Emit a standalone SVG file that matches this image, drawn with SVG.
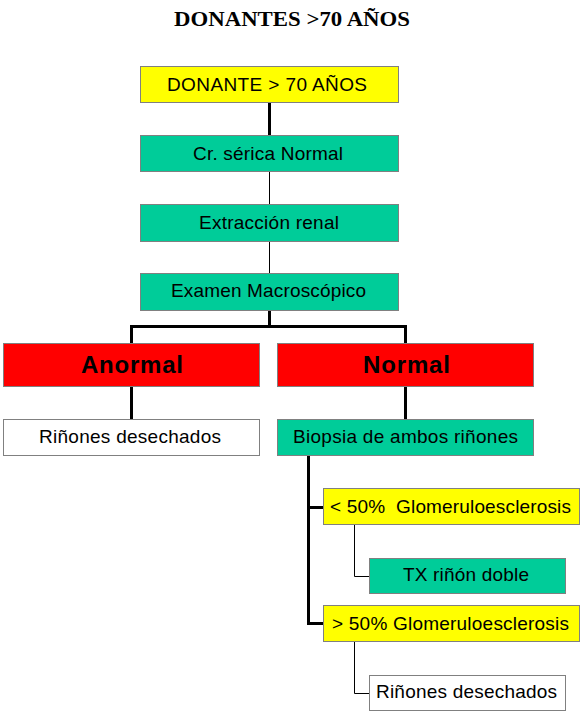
<svg xmlns="http://www.w3.org/2000/svg" width="584" height="715" viewBox="0 0 584 715">
<style>
.box{stroke:#808080;stroke-width:1}
.y{fill:#FFFF00}
.g{fill:#00CC99}
.r{fill:#FF0000}
.w{fill:#FFFFFF}
.t{font-family:"Liberation Sans",Arial,sans-serif;font-size:19px;fill:#000}
.b{font-family:"Liberation Sans",Arial,sans-serif;font-size:24px;font-weight:bold;fill:#000}
.thick{stroke:#000;stroke-width:3;fill:none}
.thin{stroke:#000;stroke-width:1;fill:none}
</style>
<rect width="584" height="715" fill="#FFFFFF"/>
<text x="174" y="26" font-family="'Liberation Serif','Times New Roman',serif" font-size="22" font-weight="bold" textLength="236" lengthAdjust="spacingAndGlyphs">DONANTES &gt;70 AÑOS</text>
<g id="connectors">
<path class="thick" d="M269.5 103V135"/>
<path class="thin" d="M269.5 172V204"/>
<path class="thin" d="M269.5 242V273"/>
<path class="thick" d="M269.5 311V326.5M131.5 343V326.5H405.5V343"/>
<path class="thick" d="M131.5 387V419"/>
<path class="thick" d="M405.5 387V419"/>
<path class="thick" d="M308.5 456V623.5H323M308.5 507.5H323"/>
<path class="thin" d="M354.5 525V576.5H369"/>
<path class="thin" d="M354.5 642V693.5H369"/>
</g>
<g id="n1"><rect class="box y" x="140.5" y="66.5" width="258" height="36"/><text class="t" x="167" y="91" textLength="200" lengthAdjust="spacing">DONANTE &gt; 70 AÑOS</text></g>
<g id="n2"><rect class="box g" x="140.5" y="135.5" width="258" height="36"/><text class="t" x="193" y="160" textLength="150" lengthAdjust="spacing">Cr. sérica Normal</text></g>
<g id="n3"><rect class="box g" x="140.5" y="204.5" width="258" height="37"/><text class="t" x="199" y="229" textLength="140" lengthAdjust="spacing">Extracción renal</text></g>
<g id="n4"><rect class="box g" x="140.5" y="273.5" width="258" height="37"/><text class="t" x="171" y="297" textLength="195" lengthAdjust="spacing">Examen Macroscópico</text></g>
<g id="n5"><rect class="box r" x="3.5" y="343.5" width="256" height="43"/><text class="b" x="81" y="373" textLength="102" lengthAdjust="spacing">Anormal</text></g>
<g id="n6"><rect class="box r" x="277.5" y="343.5" width="256" height="43"/><text class="b" x="363" y="373" textLength="87" lengthAdjust="spacing">Normal</text></g>
<g id="n7"><rect class="box w" x="3.5" y="419.5" width="256" height="36"/><text class="t" x="39" y="443" textLength="182" lengthAdjust="spacing">Riñones desechados</text></g>
<g id="n8"><rect class="box g" x="277.5" y="419.5" width="256" height="36"/><text class="t" x="293" y="443" textLength="225" lengthAdjust="spacing">Biopsia de ambos riñones</text></g>
<g id="n9"><rect class="box y" x="323.5" y="488.5" width="256" height="36"/><text class="t" x="330" y="513" textLength="241" lengthAdjust="spacing" xml:space="preserve">&lt; 50%  Glomeruloesclerosis</text></g>
<g id="n10"><rect class="box g" x="369.5" y="558.5" width="196" height="35"/><text class="t" x="403" y="581" textLength="126" lengthAdjust="spacing">TX riñón doble</text></g>
<g id="n11"><rect class="box y" x="323.5" y="605.5" width="256" height="36"/><text class="t" x="332" y="630" textLength="237" lengthAdjust="spacing">&gt; 50% Glomeruloesclerosis</text></g>
<g id="n12"><rect class="box w" x="369.5" y="675.5" width="196" height="35"/><text class="t" x="376" y="698" textLength="181" lengthAdjust="spacing">Riñones desechados</text></g>
</svg>
